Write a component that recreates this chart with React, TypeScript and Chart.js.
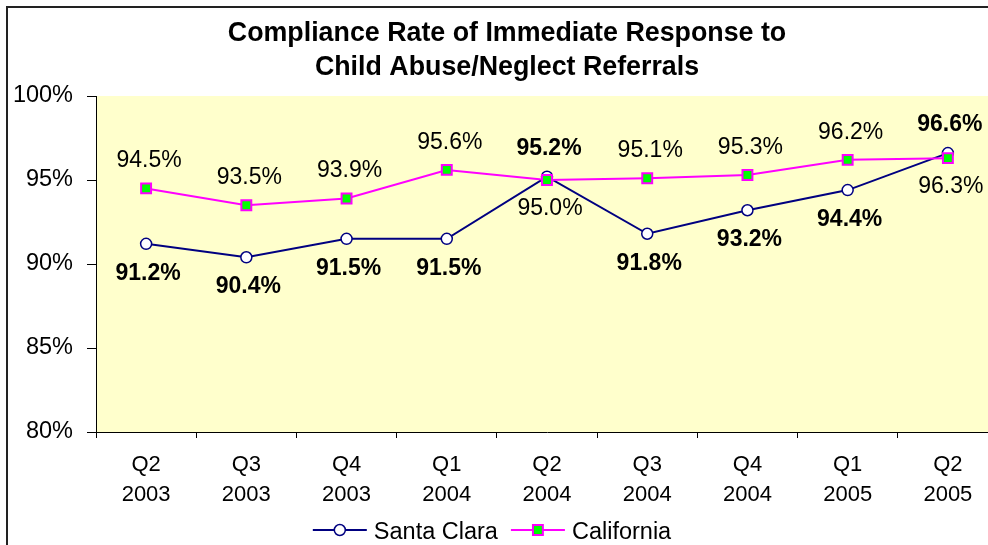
import { useEffect, useRef } from 'react';
import { Chart, registerables } from 'chart.js';

Chart.register(...registerables);

const categories: string[][] = [
  ['Q2', '2003'], ['Q3', '2003'], ['Q4', '2003'],
  ['Q1', '2004'], ['Q2', '2004'], ['Q3', '2004'],
  ['Q4', '2004'], ['Q1', '2005'], ['Q2', '2005'],
];
const santaClara = [91.2, 90.4, 91.5, 91.5, 95.2, 91.8, 93.2, 94.4, 96.6];
const california = [94.5, 93.5, 93.9, 95.6, 95.0, 95.1, 95.3, 96.2, 96.3];
const seriesNames = ['Santa Clara', 'California'];
const titleLines = ['Compliance Rate of Immediate Response to', 'Child Abuse/Neglect Referrals'];
const yMin = 80;
const yMax = 100;
const yStep = 5;

const FONT = "Arial, 'Liberation Sans', sans-serif";
const CW = 1040;
const CH = 570;

const decor = {
  id: 'decor',
  beforeDraw(chart: any) {
    const { ctx, chartArea } = chart;
    ctx.save();
    ctx.fillStyle = '#FFFFCC';
    ctx.fillRect(chartArea.left, chartArea.top, chartArea.right - chartArea.left, chartArea.bottom - chartArea.top);
    ctx.restore();
  },
  afterDatasetsDraw(chart: any) {
    const { ctx } = chart;
    const m0 = chart.getDatasetMeta(0);
    const m1 = chart.getDatasetMeta(1);
    ctx.save();
    ctx.fillStyle = '#000';
    ctx.textAlign = 'center';
    ctx.textBaseline = 'alphabetic';
    for (let i = 0; i < santaClara.length; i++) {
      const sc = santaClara[i];
      const ca = california[i];
      const pSc = m0.data[i];
      const pCa = m1.data[i];
      const scAbove = sc >= ca;
      ctx.font = `bold 23px ${FONT}`;
      ctx.fillText(sc.toFixed(1) + '%', pSc.x + 2, scAbove ? pSc.y - 22 : pSc.y + 36);
      ctx.font = `23px ${FONT}`;
      ctx.fillText(ca.toFixed(1) + '%', pCa.x + 3, scAbove ? pCa.y + 35 : pCa.y - 21);
    }
    ctx.restore();
  },
  afterDraw(chart: any) {
    const { ctx } = chart;
    ctx.save();
    // title
    ctx.fillStyle = '#000';
    ctx.textAlign = 'center';
    ctx.textBaseline = 'alphabetic';
    ctx.font = `bold 26.8px ${FONT}`;
    ctx.fillText(titleLines[0], 507, 41);
    ctx.fillText(titleLines[1], 507, 75);
    // outer border
    ctx.strokeStyle = '#222';
    ctx.lineWidth = 2;
    ctx.strokeRect(7, 7, CW, CH);
    // legend
    ctx.font = `23.5px ${FONT}`;
    const ds = chart.data.datasets;
    const lineLen = 54;
    const gapText = 7;
    const gapItem = 13;
    const widths = seriesNames.map((n) => ctx.measureText(n).width);
    const total = widths.reduce((a, w) => a + lineLen + gapText + w, 0) + gapItem;
    let x = 492 - total / 2;
    const ly = 530;
    seriesNames.forEach((name, i) => {
      const d = ds[i];
      ctx.strokeStyle = d.borderColor;
      ctx.lineWidth = d.borderWidth;
      ctx.beginPath();
      ctx.moveTo(x, ly);
      ctx.lineTo(x + lineLen, ly);
      ctx.stroke();
      ctx.fillStyle = d.pointBackgroundColor;
      ctx.strokeStyle = d.pointBorderColor;
      ctx.lineWidth = d.pointBorderWidth;
      const cx = x + lineLen / 2;
      if (d.pointStyle === 'rect') {
        const s = d.pointRadius * Math.SQRT1_2;
        ctx.beginPath();
        ctx.rect(cx - s, ly - s, 2 * s, 2 * s);
        ctx.fill();
        ctx.stroke();
      } else {
        ctx.beginPath();
        ctx.arc(cx, ly, d.pointRadius, 0, Math.PI * 2);
        ctx.fill();
        ctx.stroke();
      }
      ctx.fillStyle = '#000';
      ctx.textAlign = 'left';
      ctx.fillText(name, x + lineLen + gapText, ly + 9);
      x += lineLen + gapText + widths[i] + gapItem;
    });
    ctx.restore();
  },
};

export default function App() {
  const ref = useRef<HTMLCanvasElement | null>(null);
  useEffect(() => {
    if (!ref.current) return;
    Chart.defaults.font.family = FONT;
    const chart = new Chart(ref.current, {
      type: 'line',
      data: {
        labels: categories,
        datasets: [
          {
            label: seriesNames[0],
            data: santaClara,
            borderColor: '#000080',
            borderWidth: 2,
            pointStyle: 'circle',
            pointRadius: 5.5,
            pointBorderWidth: 1.5,
            pointBackgroundColor: '#FFFFFF',
            pointBorderColor: '#000080',
            tension: 0,
            order: 1,
          },
          {
            label: seriesNames[1],
            data: california,
            borderColor: '#FF00FF',
            borderWidth: 2,
            pointStyle: 'rect',
            pointRadius: 7,
            pointBorderWidth: 2,
            pointBackgroundColor: '#00FF00',
            pointBorderColor: '#FF00FF',
            tension: 0,
            order: 0,
          },
        ] as any,
      },
      options: {
        responsive: false,
        animation: false,
        devicePixelRatio: 1,
        layout: {
          autoPadding: false,
          padding: { left: 0, top: 96, right: CW - 998, bottom: CH - 432 - 70 },
        },
        plugins: {
          legend: { display: false },
          title: { display: false },
          tooltip: { enabled: false },
        },
        scales: {
          x: {
            offset: true,
            grid: { offset: true, drawOnChartArea: false, drawTicks: true, tickLength: 6, color: '#000' },
            border: { color: '#000', width: 1 },
            ticks: { color: '#000', font: { size: 22, lineHeight: 1.35 }, padding: 12, maxRotation: 0, autoSkip: false },
            afterFit: (s: any) => { s.height = 70; },
          },
          y: {
            min: yMin,
            max: yMax,
            ticks: { stepSize: yStep, color: '#000', font: { size: 23.5 }, padding: 14, callback: (v: any) => v + '%' },
            grid: { drawOnChartArea: false, drawTicks: true, tickLength: 9, color: '#000' },
            border: { color: '#000', width: 1 },
            afterFit: (s: any) => { s.width = 96; },
          },
        },
      } as any,
      plugins: [decor],
    });
    return () => chart.destroy();
  }, []);
  return (
    <div style={{ position: 'absolute', left: 0, top: 0, width: 988, height: 545, overflow: 'hidden', background: '#fff' }}>
      <canvas ref={ref} width={CW} height={CH} style={{ display: 'block', width: CW, height: CH }} />
    </div>
  );
}
